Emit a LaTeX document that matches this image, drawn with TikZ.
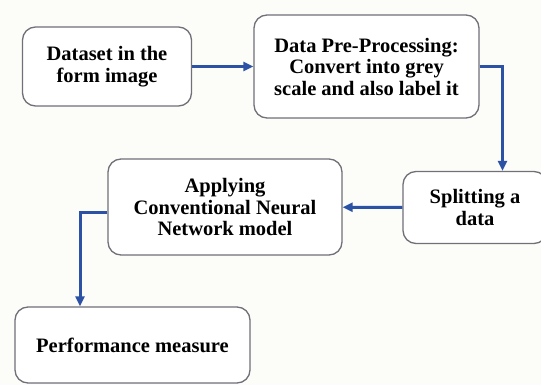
\documentclass[tikz,border=0pt]{standalone}
\usepackage{fontspec}
\setmainfont{Liberation Serif}
\newfontfamily\stagefont{Liberation Serif}
\usepackage{tikz}
\usetikzlibrary{arrows.meta, positioning}
\definecolor{flowblue}{RGB}{44, 82, 166}
\definecolor{boxgray}{RGB}{112, 112, 120}
\definecolor{paper}{RGB}{252, 252, 248}
\tikzset{
  stage/.style={
    rectangle, rounded corners=13pt,
    draw=boxgray, line width=1.3pt, fill=white,
    align=center, inner sep=2pt,
    font=\stagefont\fontsize{20.5}{21.5}\selectfont\bfseries
  },
  arr/.style={-{Triangle[length=10pt, width=9pt]}, line width=3pt, color=flowblue},
}

\begin{document}
\begin{tikzpicture}[x=1pt, y=-1pt]

  % Page
  \fill[paper] (0,0) rectangle (541,385);
  \useasboundingbox (0,0) rectangle (541,385);
  \clip (0,0) rectangle (541,385);

  % Nodes
  \node[stage, minimum width=169pt, minimum height=79pt] (data)
    at (107,66.5) {Dataset in the\\ form image};
  \node[stage, minimum width=225pt, minimum height=103pt] (prep)
    at (366.5,66.5) {Data Pre-Processing:\\ Convert into grey\\ scale and also label it};
  \node[stage, minimum width=144pt, minimum height=72pt] (split)
    at (475,207.5) {Splitting a\\ data};
  \node[stage, minimum width=234pt, minimum height=96pt] (cnn)
    at (225,207) {Applying\\ Conventional Neural\\ Network model};
  \node[stage, minimum width=235pt, minimum height=76pt] (perf)
    at (132.5,345) {Performance measure};

  % Bends
  \coordinate (bendR) at (502.5,66.5);
  \coordinate (bendL) at (80,212);

  % Arrows
  \draw[arr] (data) -- (prep);
  \draw[arr] (prep.east) -- (bendR) -- (bendR |- split.north);
  \draw[arr] (split) -- (cnn);
  \draw[arr] (cnn.west |- bendL) -- (bendL) -- (bendL |- perf.north);

\end{tikzpicture}
\end{document}
